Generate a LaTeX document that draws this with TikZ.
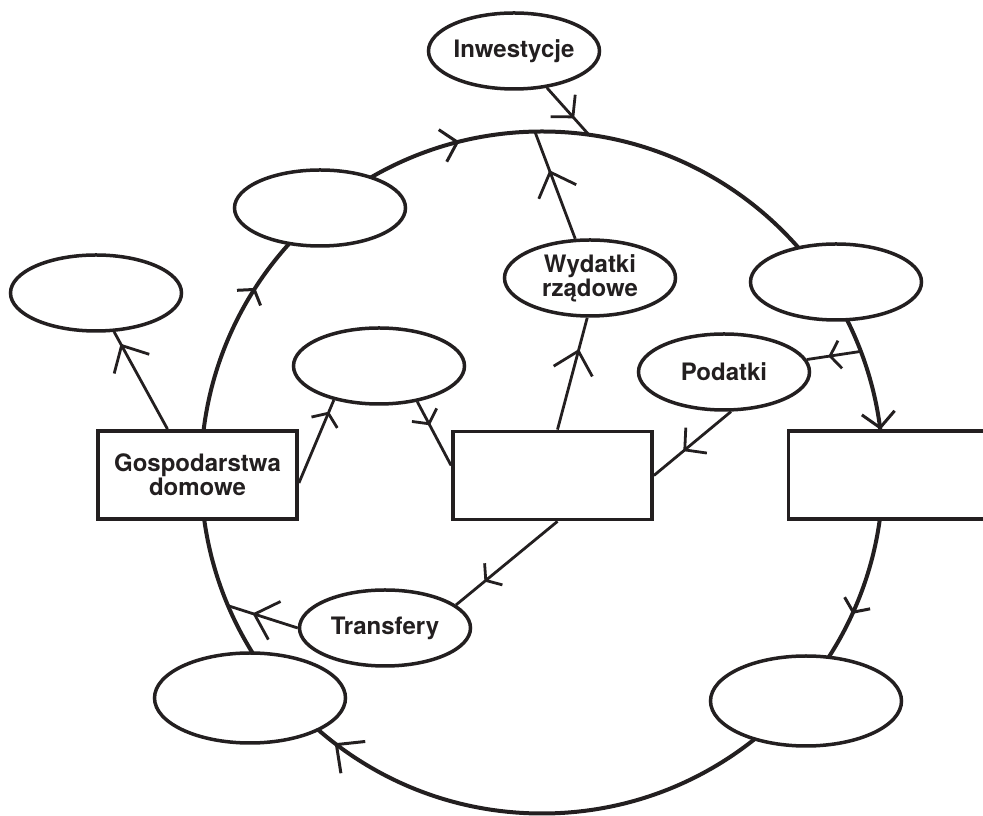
\documentclass[tikz,border=0pt]{standalone}
\usepackage{fontspec}
\setmainfont{TeX Gyre Heros}
\usetikzlibrary{shapes.geometric,arrows.meta,decorations.markings,calc}

\definecolor{ink}{HTML}{231F20}

\tikzstyle{block} = [rectangle, minimum width=199pt, minimum height=88pt, inner sep=0pt, draw=ink, line width=3.8pt, fill=white, align=center, text=ink, font=\fontsize{24}{24}\selectfont\bfseries]
\tikzstyle{oval} = [ellipse, minimum width=171pt, minimum height=76pt, inner sep=0pt, draw=ink, line width=3.5pt, fill=white, align=center, text=ink, font=\fontsize{24}{24}\selectfont\bfseries]
\tikzstyle{bigoval} = [oval, minimum width=191pt, minimum height=90pt]
\tikzstyle{line} = [draw=ink, line width=2.8pt]

\tikzset{
  bigtip/.style={postaction={decorate}, decoration={markings, mark=at position #1 with {\arrow{Straight Barb[length=21pt,width=40pt]}}}},
  midtip/.style={postaction={decorate}, decoration={markings, mark=at position #1 with {\arrow{Straight Barb[length=15pt,width=33pt]}}}},
  smalltip/.style={postaction={decorate}, decoration={markings, mark=at position #1 with {\arrow{Straight Barb[length=10pt,width=28pt]}}}}
}

\begin{document}
\begin{tikzpicture}[x=1pt, y=1pt]
    \useasboundingbox (0,0) rectangle (983,816);

    % Draw the cycle
    \coordinate (ctr) at (542,343.5);
    \draw [draw=ink, line width=4pt, postaction={decorate}, decoration={markings,
        mark=at position 0.068 with {\arrow{Straight Barb[length=10pt,width=28pt,line width=3pt]}},
        mark=at position 0.354 with {\arrow{Straight Barb[length=21pt,width=40pt,line width=3pt]}},
        mark=at position 0.591 with {\arrow{Straight Barb[length=10pt,width=28pt,line width=3pt]}},
        mark=at position 0.711 with {\arrow{Straight Barb[length=15pt,width=33pt,line width=3pt]}},
        mark=at position 0.980 with {\arrow{Straight Barb[length=15pt,width=33pt,line width=3pt]}}}]
        (ctr) ++(0:341) arc[start angle=360, end angle=0, radius=341];

    \coordinate (inwjoin) at ($(ctr)+(82.1:341)$);
    \coordinate (wydjoin) at ($(ctr)+(91.2:341)$);
    \coordinate (podjoin) at ($(ctr)+(20.8:341)$);
    \coordinate (trfjoin) at ($(ctr)+(203:341)$);

    % Draw nodes
    \node (inw) [oval] at (514,765) {Inwestycje};
    \node (tle) [oval] at (320,608) {};
    \node (fle) [oval] at (96,523) {};
    \node (mle) [oval] at (379,450) {};
    \node (wyd) [oval] at (590,538) {Wydatki\\rządowe};
    \node (tre) [oval] at (836,534) {};
    \node (pod) [oval] at (724,444) {Podatki};
    \node (gosp) [block] at (197.5,341) {Gospodarstwa\\domowe};
    \node (cbox) [block] at (552.5,340.5) {};
    \node (rbox) [block, minimum width=212pt] at (894.5,341) {};
    \node (trf) [oval] at (385,188) {Transfery};
    \node (ble) [bigoval] at (250,118) {};
    \node (bre) [bigoval] at (806,115) {};

    % Draw connections
    \draw [line, bigtip=0.88] ([xshift=-30pt]gosp.north) -- (fle.295);
    \draw [line, smalltip=0.86] ([yshift=-8pt]gosp.east) -- (mle.217);
    \draw [line, smalltip=0.37] (mle.317) -- ([yshift=10pt]cbox.west);
    \draw [line, bigtip=0.72] ([xshift=5pt]cbox.north) -- (wyd.266);
    \draw [line, bigtip=0.64] (wyd) -- (wydjoin);
    \draw [line, midtip=0.65] (inw) -- (inwjoin);
    \draw [line, smalltip=0.6] (podjoin) -- (pod);
    \draw [line, midtip=0.62] (pod.280) -- (cbox.east);
    \draw [line, smalltip=0.72] ([xshift=5pt]cbox.south) -- (trf.18);
    \draw [line, bigtip=0.65] (trf.west) -- (trfjoin);

\end{tikzpicture}
\end{document}
